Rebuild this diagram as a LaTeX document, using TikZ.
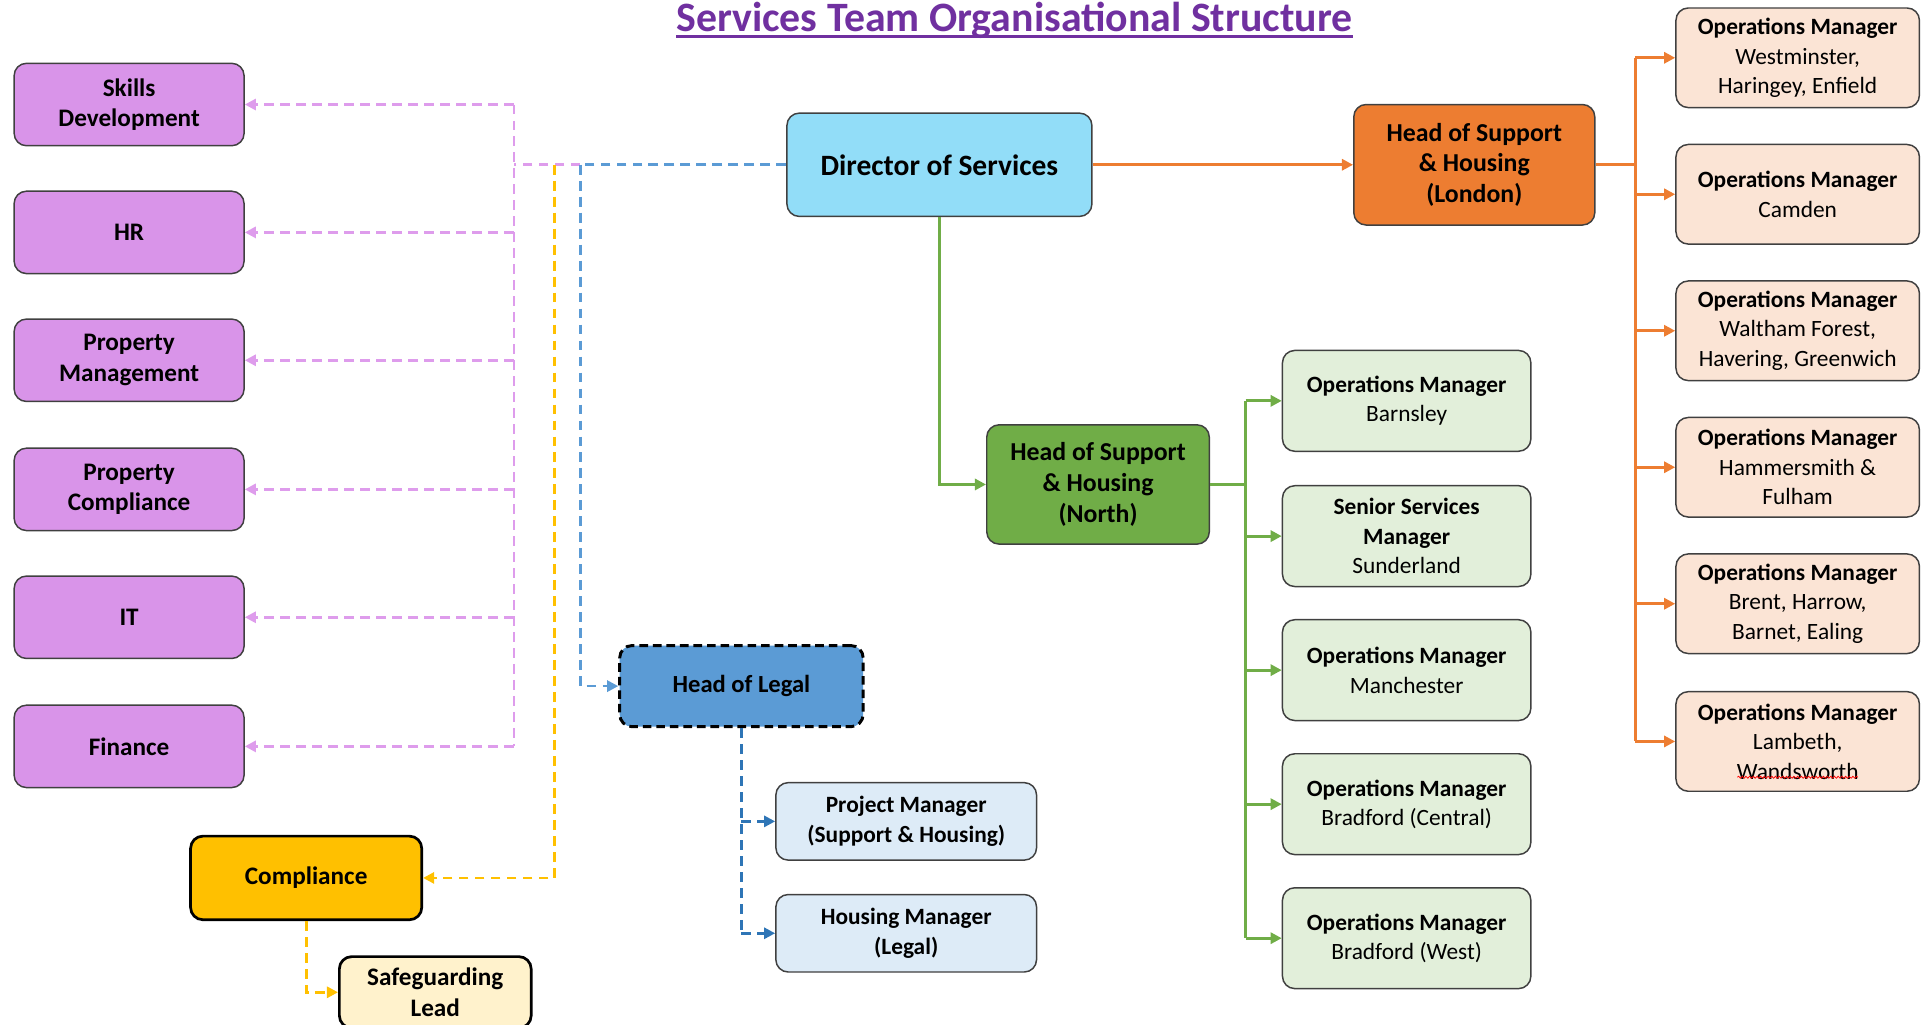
\documentclass[tikz,border=0pt]{standalone}
\usepackage{fontspec}
\setmainfont{Carlito}
\usetikzlibrary{arrows.meta,positioning,decorations.pathmorphing}

\definecolor{titlepurple}{HTML}{7030A0}
\definecolor{lilac}{HTML}{D994E9}
\definecolor{lilacline}{HTML}{DE9CEC}
\definecolor{skyblue}{HTML}{92DDF8}
\definecolor{orangehead}{HTML}{ED7D31}
\definecolor{peach}{HTML}{FBE4D5}
\definecolor{greenhead}{HTML}{70AD47}
\definecolor{palegreen}{HTML}{E2EFDA}
\definecolor{legalblue}{HTML}{5B9BD5}
\definecolor{legalline}{HTML}{2E75B6}
\definecolor{paleblue}{HTML}{DDEBF7}
\definecolor{amber}{HTML}{FFC000}
\definecolor{cream}{HTML}{FFF2CC}
\definecolor{boxline}{HTML}{404040}

\newcommand{\boxfont}{\fontsize{19}{24}\selectfont}

\begin{document}
\begin{tikzpicture}[x=1pt,y=-1pt,>={Triangle[length=9pt,width=9pt]},
    unit/.style={draw=boxline,line width=1.2pt,rounded corners=10pt,align=center,
                 inner sep=2pt,font=\boxfont},
    support/.style={unit,fill=lilac,minimum width=187pt,minimum height=67pt,
                    font=\fontsize{20.5}{25}\selectfont\bfseries},
    londonop/.style={unit,fill=peach,minimum width=198pt,minimum height=81pt},
    northop/.style={unit,fill=palegreen,minimum width=202pt,minimum height=82pt},
    legalop/.style={unit,fill=paleblue,minimum width=212pt,minimum height=63pt,font=\boxfont\bfseries},
    pinkline/.style={draw=lilacline,line width=2.2pt,dash pattern=on 8pt off 5pt},
    blueline/.style={draw=legalblue,line width=2.2pt,dash pattern=on 8pt off 5pt},
    yellowline/.style={draw=amber,line width=2.2pt,dash pattern=on 8pt off 5pt},
    legalbranch/.style={draw=legalline,line width=2.2pt,dash pattern=on 8pt off 5pt},
    orangeline/.style={draw=orangehead,line width=2.4pt},
    greenline/.style={draw=greenhead,line width=2.4pt}]

  \useasboundingbox (0,0) rectangle (1568,833);

  % title
  \node[anchor=base,text=titlepurple,font=\fontsize{34}{40}\selectfont\bfseries,inner sep=0pt]
    (title) at (825,26) {Services Team Organisational Structure};
  \draw[titlepurple,line width=2pt] ([yshift=-3.5pt]title.base west) -- ([yshift=-3.5pt]title.base east);

  % top of the tree
  \node[unit,fill=skyblue,minimum width=248pt,minimum height=84pt,font=\fontsize{24}{29}\selectfont\bfseries]
    (dir) at (764,134) {Director of Services};
  \node[unit,fill=orangehead,minimum width=196pt,minimum height=98pt,font=\fontsize{21}{25}\selectfont\bfseries]
    (london) at (1199,134) {Head of Support\\\& Housing\\(London)};
  \node[unit,fill=greenhead,minimum width=181pt,minimum height=97pt,font=\fontsize{21}{25}\selectfont\bfseries]
    (north) at (893,394) {Head of Support\\\& Housing\\(North)};
  \node[unit,fill=legalblue,draw=black,line width=2.4pt,dash pattern=on 7pt off 4pt,
        minimum width=198pt,minimum height=66pt,font=\fontsize{20}{24}\selectfont\bfseries]
    (legal) at (603,558) {Head of Legal};

  % support functions
  \node[support] (skills) at (105,85) {Skills\\Development};
  \node[support] (hr) at (105,189) {HR};
  \node[support] (propman) at (105,293) {Property\\Management};
  \node[support] (propcomp) at (105,398) {Property\\Compliance};
  \node[support] (it) at (105,502) {IT};
  \node[support] (finance) at (105,607) {Finance};

  \node[unit,fill=amber,draw=black,line width=2.2pt,minimum width=188pt,minimum height=68pt,
        font=\fontsize{20.5}{25}\selectfont\bfseries]
    (compl) at (249,714) {Compliance};
  \node[unit,fill=cream,draw=black,line width=2.2pt,minimum width=156pt,minimum height=58pt,
        font=\fontsize{20.5}{25}\selectfont\bfseries]
    (safe) at (354,807) {Safeguarding\\Lead};

  % London
  \node[londonop] (om1) at (1462,47) {\textbf{Operations Manager}\\Westminster,\\Haringey, Enfield};
  \node[londonop] (om2) at (1462,158) {\textbf{Operations Manager}\\Camden};
  \node[londonop] (om3) at (1462,269) {\textbf{Operations Manager}\\Waltham Forest,\\Havering, Greenwich};
  \node[londonop] (om4) at (1462,380) {\textbf{Operations Manager}\\Hammersmith \&\\Fulham};
  \node[londonop] (om5) at (1462,491) {\textbf{Operations Manager}\\Brent, Harrow,\\Barnet, Ealing};
  \node[londonop] (om6) at (1462,603) {\textbf{Operations Manager}\\Lambeth,\\Wandsworth};

  % North
  \node[northop] (nm1) at (1144,326) {\textbf{Operations Manager}\\Barnsley};
  \node[northop] (nm2) at (1144,436) {\textbf{Senior Services}\\\textbf{Manager}\\Sunderland};
  \node[northop] (nm3) at (1144,545) {\textbf{Operations Manager}\\Manchester};
  \node[northop] (nm4) at (1144,654) {\textbf{Operations Manager}\\Bradford (Central)};
  \node[northop] (nm5) at (1144,763) {\textbf{Operations Manager}\\Bradford (West)};

  % Legal
  \node[legalop] (pm) at (737,668) {Project Manager\\(Support \& Housing)};
  \node[legalop] (hm) at (737,759) {Housing Manager\\(Legal)};

  \coordinate (pbus) at (418,134);
  \coordinate (ybus) at (451,134);
  \coordinate (bbus) at (472,134);
  \coordinate (obus) at (1330,134);
  \coordinate (gbus) at (1013,394);

  % dotted reporting lines
  \draw[blueline] (dir.west) -- (bbus);
  \draw[pinkline] (bbus) -- (pbus);
  \draw[pinkline] (pbus |- skills.east) -- (pbus |- finance.east);
  \foreach \n in {skills,hr,propman,propcomp,it,finance}
    \draw[pinkline,->] (pbus |- \n.east) -- (\n.east);
  \draw[yellowline,->] (ybus) |- (compl.east);
  \draw[blueline,->] (bbus) |- (legal.west);
  \draw[yellowline,->] (compl.south) |- (safe.west);
  \draw[legalbranch] (legal.south) -- (legal.south |- hm.west);
  \foreach \n in {pm,hm}
    \draw[legalbranch,->] (legal.south |- \n.west) -- (\n.west);

  % line management
  \draw[orangeline,->] (dir.east) -- (london.west);
  \draw[orangeline] (london.east) -- (obus);
  \draw[orangeline] (obus |- om1.west) -- (obus |- om6.west);
  \foreach \n in {om1,om2,om3,om4,om5,om6}
    \draw[orangeline,->] (obus |- \n.west) -- (\n.west);

  \draw[greenline,->] (dir.south) |- (north.west);
  \draw[greenline] (north.east) -- (gbus);
  \draw[greenline] (gbus |- nm1.west) -- (gbus |- nm5.west);
  \foreach \n in {nm1,nm2,nm3,nm4,nm5}
    \draw[greenline,->] (gbus |- \n.west) -- (\n.west);

  % spell-check squiggle
  \draw[red,line width=0.6pt,decorate,decoration={snake,amplitude=0.8pt,segment length=3pt}]
    ([xshift=-49pt,yshift=12pt]om6.south) -- ([xshift=49pt,yshift=12pt]om6.south);
\end{tikzpicture}
\end{document}
